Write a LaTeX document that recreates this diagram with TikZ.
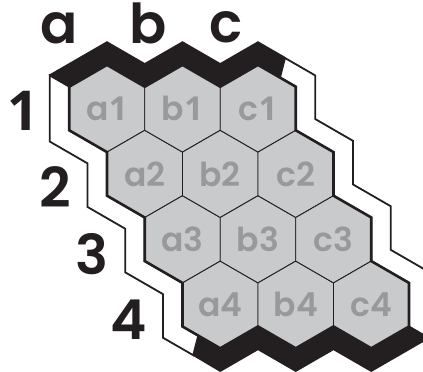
\documentclass[tikz,border=0pt]{standalone}
\usepackage{fontspec}
\setmainfont{Poppins}
\newfontfamily\popsemi{Poppins SemiBold}
\newfontfamily\onefont{Open Sans}
\newcommand{\one}{{\onefont\bfseries 1}}
\definecolor{hexgray}{RGB}{201,202,204}
\definecolor{labgray}{RGB}{152,153,155}
\definecolor{ink}{RGB}{35,31,32}
\begin{document}
\begin{tikzpicture}[x=1pt,y=-1pt,
  hexcell/.style={fill=hexgray,draw=ink,line width=0.9pt,line join=miter},
  hexlabel/.style={text=labgray,font=\popsemi\fontsize{33}{33}\selectfont,inner sep=0pt},
  bigletter/.style={text=ink,font=\popsemi\fontsize{55}{55}\selectfont,inner sep=0pt,anchor=base},
  whiteband/.style={fill=white,draw=ink,line width=1.8pt,line join=miter},
  blackband/.style={fill=ink},
  boardedge/.style={draw=ink,line width=2.6pt,line join=miter}]
\useasboundingbox (0,0) rectangle (423,372);
\clip (0,0) rectangle (423,372);

% left white band
\draw[whiteband] (69.25,86.7) -- (49.75,75.4) -- (49.75,141.55) -- (87.5,163.35) -- (87.5,206.95) -- (125.25,228.75) -- (125.25,272.35) -- (163,294.15) -- (163,337.75) -- (193.25,355.2) -- (198.25,335.6) -- (182.5,326.5) -- (182.5,282.9) -- (144.75,261.1) -- (144.75,217.5) -- (107,195.7) -- (107,152.1) -- (69.25,130.3) -- cycle;

% right white band
\draw[whiteband] (280,77.6) -- (285,58) -- (315.25,75.45) -- (315.25,119.05) -- (353,140.85) -- (353,184.45) -- (390.75,206.25) -- (390.75,249.85) -- (428.5,271.65) -- (428.5,337.8) -- (409,326.5) -- (409,282.9) -- (371.25,261.1) -- (371.25,217.5) -- (333.5,195.7) -- (333.5,152.1) -- (295.75,130.3) -- (295.75,86.7) -- cycle;

% top black band
\fill[blackband] (69.25,86.7) -- (107,64.9) -- (144.75,86.7) -- (182.5,64.9) -- (220.25,86.7) -- (258,64.9) -- (280,77.6) -- (285,56.8) -- (258,41.2) -- (220.25,63) -- (182.5,41.2) -- (144.75,63) -- (107,41.2) -- (48.7,74.85) -- cycle;

% bottom black band
\fill[blackband] (409,326.5) -- (371.25,348.3) -- (333.5,326.5) -- (295.75,348.3) -- (258,326.5) -- (220.25,348.3) -- (198.25,335.6) -- (193.25,356) -- (220.25,372) -- (258,350.2) -- (295.75,372) -- (333.5,350.2) -- (371.25,372) -- (409,350.2) -- (429.5,338.35) -- cycle;

% hexes
\foreach \c/\i in {a/0,b/1,c/2}{
  \foreach \r in {1,2,3,4}{
    \pgfmathsetmacro\cx{107+75.5*\i+37.75*(\r-1)}
    \pgfmathsetmacro\cy{108.5+65.4*(\r-1)}
    \draw[hexcell,shift={(\cx,\cy)}] (0,-43.6) -- (37.75,-21.8) -- (37.75,21.8) -- (0,43.6) -- (-37.75,21.8) -- (-37.75,-21.8) -- cycle;
  }
}

% board outline
\draw[boardedge] (69.25,86.7) -- (107,64.9) -- (144.75,86.7) -- (182.5,64.9) -- (220.25,86.7) -- (258,64.9) -- (295.75,86.7) -- (295.75,130.3) -- (333.5,152.1) -- (333.5,195.7) -- (371.25,217.5) -- (371.25,261.1) -- (409,282.9) -- (409,326.5) -- (371.25,348.3) -- (333.5,326.5) -- (295.75,348.3) -- (258,326.5) -- (220.25,348.3) -- (182.5,326.5) -- (182.5,282.9) -- (144.75,261.1) -- (144.75,217.5) -- (107,195.7) -- (107,152.1) -- (69.25,130.3) -- cycle;

% cell labels
\node[hexlabel] (a1) at (107,108.5) {a\one};
\node[hexlabel] (b1) at (182.5,108.5) {b\one};
\node[hexlabel] (c1) at (258,108.5) {c\one};
\foreach \c/\i in {a/0,b/1,c/2}{
  \foreach \r in {2,3,4}{
    \pgfmathsetmacro\cx{107+75.5*\i+37.75*(\r-1)}
    \pgfmathsetmacro\cy{108.5+65.4*(\r-1)}
    \node[hexlabel] (\c\r) at (\cx,\cy) {\c\r};
  }
}

% column and row labels
\node[bigletter] (cola) at (59,43) {a};
\node[bigletter] (colb) at (148,43) {b};
\node[bigletter] (colc) at (226,42) {c};
\node[bigletter] (row1) at (23,130) {\one};
\node[bigletter] (row2) at (55,207) {2};
\node[bigletter] (row3) at (92,274) {3};
\node[bigletter] (row4) at (129,339) {4};
\end{tikzpicture}
\end{document}
